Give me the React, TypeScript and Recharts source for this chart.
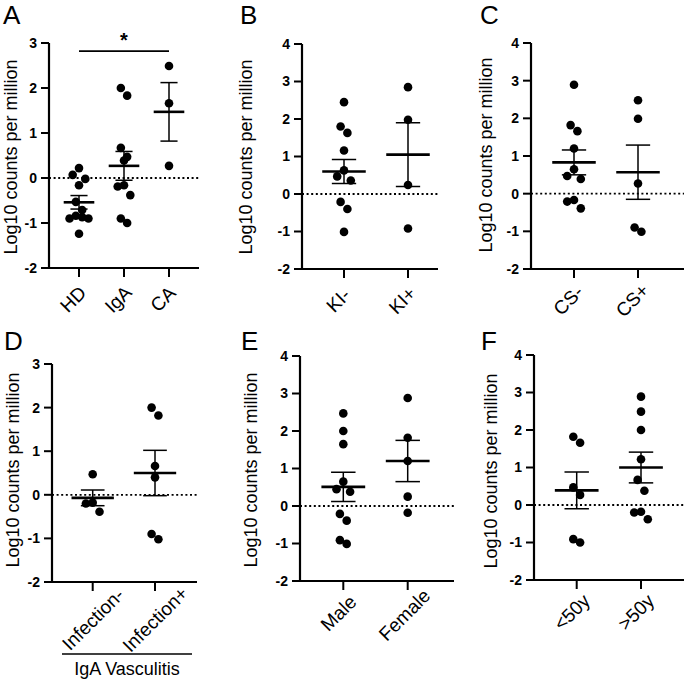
import React from "react";
import { ScatterChart, Scatter, XAxis, YAxis, ReferenceLine, ErrorBar } from "recharts";

const FONT = '"Liberation Sans", Arial, Helvetica, sans-serif';

// A: healthy donors vs IgA vasculitis vs CA
const groupsA = ["HD", "IgA", "CA"];
const valuesA = [
  [0.22, 0.07, -0.02, -0.16, -0.53, -0.71, -0.84, -0.87, -0.9, -0.9, -1.24],
  [2.0, 1.83, 0.67, 0.47, 0.39, -0.16, -0.19, -0.38, -0.9, -1.0],
  [2.49, 1.66, 0.27],
];
const meansA = [-0.54, 0.27, 1.47];
const semsA = [0.15, 0.32, 0.65];
const yTicksA = [-2, -1, 0, 1, 2, 3];
const sigA = { from: 1, to: 3, y: 2.82, label: "*" };

// B
const groupsB = ["KI-", "KI+"];
const valuesB = [
  [2.45, 1.8, 1.63, 1.16, 0.63, 0.47, 0.36, -0.21, -0.4, -1.01],
  [2.85, 1.98, 0.24, -0.92],
];
const meansB = [0.6, 1.05];
const semsB = [0.32, 0.85];

// C
const groupsC = ["CS-", "CS+"];
const valuesC = [
  [2.89, 1.82, 1.66, 1.2, 0.65, 0.47, 0.39, -0.17, -0.21, -0.39],
  [2.48, 1.99, 0.27, -0.9, -1.01],
];
const meansC = [0.83, 0.57];
const semsC = [0.33, 0.72];

// D
const groupsD = ["Infection-", "Infection+"];
const valuesD = [
  [0.47, -0.18, -0.2, -0.39],
  [2.0, 1.82, 0.66, 0.4, -0.9, -1.02],
];
const meansD = [-0.07, 0.5];
const semsD = [0.18, 0.52];
const bracketD = "IgA Vasculitis";

// E
const groupsE = ["Male", "Female"];
const valuesE = [
  [2.47, 2.0, 1.65, 0.65, 0.45, 0.38, -0.21, -0.39, -0.91, -1.01],
  [2.88, 1.82, 1.2, 0.25, -0.18],
];
const meansE = [0.51, 1.2];
const semsE = [0.39, 0.55];

// F
const groupsF = ["<50y", ">50y"];
const valuesF = [
  [1.82, 1.66, 0.47, 0.27, -0.91, -1.0],
  [2.89, 2.49, 2.0, 1.22, 0.67, 0.38, -0.18, -0.2, -0.38],
];
const meansF = [0.39, 1.0];
const semsF = [0.49, 0.41];

const yTicksWide = [-2, -1, 0, 1, 2, 3, 4];
const yLabelText = "Log10 counts per million";

const panels = [
  { letter: "A", groups: groupsA, values: valuesA, means: meansA, sems: semsA, yTicks: yTicksA, sig: sigA,
    box: { x: 0, y: 0, w: 225, h: 340 }, plot: { l: 49, r: 199, t: 43, b: 268 }, catX: [79, 169],
    yLab: { x: 16.5, y: 157 }, letterAt: { x: 3, y: 24 } },
  { letter: "B", groups: groupsB, values: valuesB, means: meansB, sems: semsB, yTicks: yTicksWide,
    box: { x: 225, y: 0, w: 230, h: 340 }, plot: { l: 302, r: 438, t: 44, b: 269 }, catX: [344, 408],
    yLab: { x: 252, y: 157 }, letterAt: { x: 240, y: 24 } },
  { letter: "C", groups: groupsC, values: valuesC, means: meansC, sems: semsC, yTicks: yTicksWide,
    box: { x: 455, y: 0, w: 230, h: 340 }, plot: { l: 531, r: 684, t: 43, b: 269 }, catX: [574, 638],
    yLab: { x: 492, y: 155 }, letterAt: { x: 480, y: 24 } },
  { letter: "D", groups: groupsD, values: valuesD, means: meansD, sems: semsD, yTicks: yTicksA,
    box: { x: 0, y: 340, w: 225, h: 340 }, plot: { l: 52, r: 197, t: 364, b: 582 }, catX: [92.7, 155],
    yLab: { x: 19, y: 470 }, letterAt: { x: 4, y: 350 } },
  { letter: "E", groups: groupsE, values: valuesE, means: meansE, sems: semsE, yTicks: yTicksWide,
    box: { x: 225, y: 340, w: 230, h: 340 }, plot: { l: 300, r: 454, t: 356, b: 581 }, catX: [343.3, 407.7],
    yLab: { x: 257, y: 470 }, letterAt: { x: 241, y: 350 } },
  { letter: "F", groups: groupsF, values: valuesF, means: meansF, sems: semsF, yTicks: yTicksWide,
    box: { x: 455, y: 340, w: 230, h: 340 }, plot: { l: 534, r: 684, t: 355, b: 580 }, catX: [576.7, 641],
    yLab: { x: 496.5, y: 471 }, letterAt: { x: 481, y: 350 } },
];

// GraphPad-like scatter: points close in y share a row and spread symmetrically
function swarm(values: number[], pxY: number, step: number, gap = 11) {
  const sorted = [...values].sort((a, b) => b - a);
  const rows: number[][] = [];
  let cur: number[] = [];
  let head = 0;
  for (const v of sorted) {
    if (cur.length && (head - v) * pxY < gap) cur.push(v);
    else {
      if (cur.length) rows.push(cur);
      cur = [v];
      head = v;
    }
  }
  if (cur.length) rows.push(cur);
  const out: { v: number; dx: number }[] = [];
  rows.forEach((row) => {
    const slots: number[] = [];
    if (row.length % 2) {
      slots.push(0);
      for (let k = 1; slots.length < row.length; k++) slots.push(-k * step, k * step);
    } else {
      for (let k = 0.5; slots.length < row.length; k++) slots.push(-k * step, k * step);
    }
    row.forEach((v, j) => out.push({ v, dx: slots[j] }));
  });
  return out;
}

function XTick(props: any) {
  const { x, payload, labels, axisY } = props;
  const text = labels[Math.round(payload.value) - 1] ?? "";
  const approxLen = text.length * 9.5;
  const shift = Math.max(0, (approxLen - 26) * 0.09);
  const cx = x - 6 + shift;
  const cy = axisY + 31 + shift;
  return (
    <text x={cx} y={cy} dy="0.35em" textAnchor="middle" fontSize={19} fontFamily={FONT} fill="#000"
      transform={`rotate(-45 ${cx} ${cy})`}>
      {text}
    </text>
  );
}

function Panel({ cfg }: any) {
  const { groups, values, means, sems, yTicks, box, plot, catX, yLab, sig } = cfg;
  const n = groups.length;
  const spacing = (catX[1] - catX[0]) / (n - 1);
  const x0 = 1 - (catX[0] - plot.l) / spacing;
  const x1 = x0 + (plot.r - plot.l) / spacing;
  const yMin = yTicks[0];
  const yMax = yTicks[yTicks.length - 1];
  const pxY = (plot.b - plot.t) / (yMax - yMin);
  const step = Math.min(6.8, spacing * 0.14);

  const dots = values.flatMap((vals: number[], gi: number) =>
    swarm(vals, pxY, step).map((p) => ({ x: gi + 1 + p.dx / spacing, y: p.v }))
  );
  const summary = means.map((m: number, i: number) => ({ x: i + 1, y: m, sem: sems[i] }));
  const meanHalf = spacing * 0.34;
  const capHalf = spacing * 0.19;
  const axisY = plot.b - box.y;

  return (
    <div style={{ position: "absolute", left: box.x, top: box.y, width: box.w, height: box.h }}>
      <ScatterChart
        width={box.w}
        height={box.h}
        margin={{ top: plot.t - box.y, right: box.x + box.w - plot.r, bottom: 0, left: 0 }}
      >
        <XAxis
          type="number"
          dataKey="x"
          domain={[x0, x1]}
          allowDataOverflow
          ticks={groups.map((_: string, i: number) => i + 1)}
          interval={0}
          height={box.y + box.h - plot.b}
          axisLine={{ stroke: "#000", strokeWidth: 2.2 }}
          tickLine={{ stroke: "#000", strokeWidth: 2 }}
          tickSize={9}
          tick={(p: any) => <XTick {...p} labels={groups} axisY={axisY} />}
        />
        <YAxis
          type="number"
          dataKey="y"
          domain={[yMin, yMax]}
          allowDataOverflow
          ticks={yTicks}
          interval={0}
          width={plot.l - box.x}
          axisLine={{ stroke: "#000", strokeWidth: 2.2 }}
          tickLine={{ stroke: "#000", strokeWidth: 2 }}
          tickSize={8}
          tickMargin={4}
          tick={{ fill: "#000", fontSize: 14, fontWeight: 700, fontFamily: FONT }}
          label={() => (
            <text
              x={yLab.x - box.x}
              y={yLab.y - box.y}
              textAnchor="middle"
              fontSize={18}
              fontFamily={FONT}
              fill="#000"
              transform={`rotate(-90 ${yLab.x - box.x} ${yLab.y - box.y})`}
            >
              {yLabelText}
            </text>
          )}
        />
        <ReferenceLine y={0} stroke="#000" strokeWidth={1.8} strokeDasharray="2 2.6" />
        {sig && (
          <ReferenceLine
            segment={[{ x: sig.from, y: sig.y }, { x: sig.to, y: sig.y }]}
            stroke="#000"
            strokeWidth={1.6}
            label={(p: any) => {
              const vb = p.viewBox || {};
              return (
                <text x={(vb.x ?? 0) + (vb.width ?? 0) / 2} y={(vb.y ?? 0) - 4.5} textAnchor="middle"
                  fontSize={20} fontWeight={700} fontFamily={FONT} fill="#000">
                  {sig.label}
                </text>
              );
            }}
          />
        )}
        <Scatter
          data={dots}
          isAnimationActive={false}
          shape={(p: any) => <circle cx={p.cx} cy={p.cy} r={4.3} fill="#000" />}
        />
        <Scatter
          data={summary}
          isAnimationActive={false}
          shape={(p: any) => (
            <line x1={p.cx - meanHalf} x2={p.cx + meanHalf} y1={p.cy} y2={p.cy} stroke="#000" strokeWidth={2.6} />
          )}
        >
          <ErrorBar dataKey="sem" direction="y" width={capHalf} stroke="#000" strokeWidth={1.5} />
        </Scatter>
      </ScatterChart>
    </div>
  );
}

export default function App() {
  return (
    <div style={{ position: "absolute", left: 0, top: 0, width: 685, height: 680, background: "#fff", overflow: "hidden" }}>
      {panels.map((cfg) => (
        <Panel key={cfg.letter} cfg={cfg} />
      ))}
      <svg width={685} height={680} style={{ position: "absolute", left: 0, top: 0, pointerEvents: "none" }}>
        {panels.map((cfg) => (
          <text key={cfg.letter} x={cfg.letterAt.x} y={cfg.letterAt.y} fontSize={26} fontFamily={FONT} fill="#000">
            {cfg.letter}
          </text>
        ))}
        <line x1={62} x2={192} y1={654} y2={654} stroke="#000" strokeWidth={1.5} />
        <text x={127} y={675} textAnchor="middle" fontSize={18} fontFamily={FONT} fill="#000">
          {bracketD}
        </text>
      </svg>
    </div>
  );
}
